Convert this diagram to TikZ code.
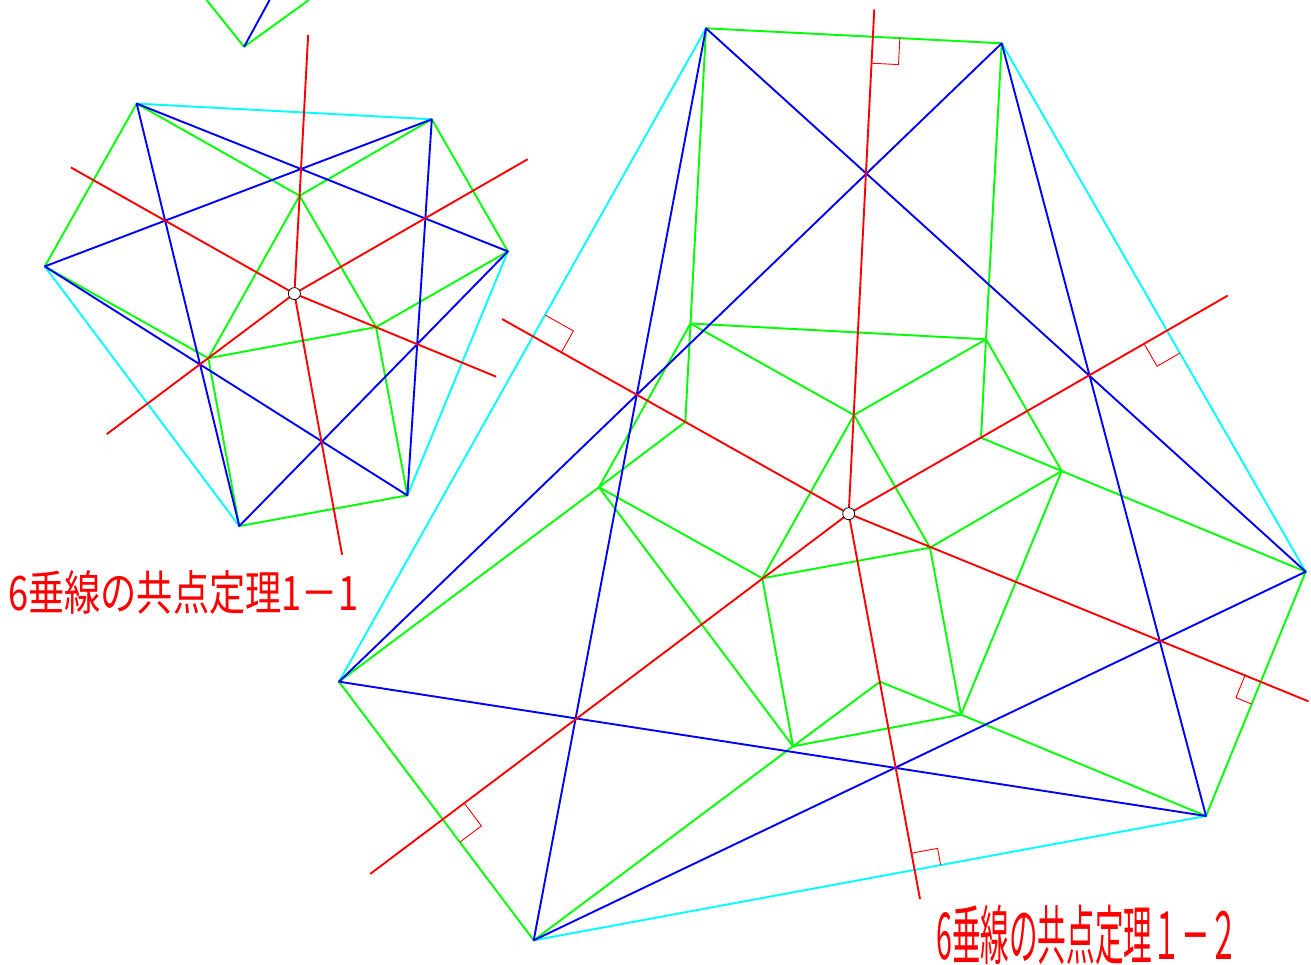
\documentclass[tikz,border=0pt]{standalone}
\usepackage{fontspec}
\usepackage{graphicx}
\newfontfamily\jp{Noto Sans CJK JP}
\usetikzlibrary{calc}
\definecolor{cgreen}{RGB}{0,255,0}
\definecolor{ccyan}{RGB}{0,255,255}
\definecolor{cblue}{RGB}{0,0,255}
\definecolor{cred}{RGB}{255,0,0}
\newcommand\perpRay[5]{%
  \coordinate (#5f) at ($(#2)!(#1)!(#3)$);
  \coordinate (#5) at ($(#1)!#4pt!(#5f)$);
  \draw[redl] (#1) -- (#5);}
\newcommand\raMark[5]{%
  \coordinate (ft) at ($(#1)!(O2)!(#2)$);
  \coordinate (ma) at ($(ft)!#4pt!(#3)$);
  \coordinate (mb) at ($(ft)!#5pt!(O2)$);
  \draw[ramark] (ma) -- ($(ma)+(mb)-(ft)$) -- (mb);}
\begin{document}
\begin{tikzpicture}[x=1pt,y=-1pt,
  gl/.style={draw=cgreen,line width=1.9pt,line join=round},
  cl/.style={draw=ccyan,line width=1.9pt,line join=round},
  bl/.style={draw=cblue,line width=1.9pt,line join=round},
  redl/.style={draw=cred,line width=1.9pt},
  ramark/.style={draw=cred,line width=0.9pt},
  ctr/.style={circle,draw=black,fill=white,inner sep=0pt,minimum size=12pt,line width=0.8pt},
  lab/.style={anchor=north west,inner sep=0pt,text=cred}]
\useasboundingbox (0,0) rectangle (1311,965);
\clip (0,0) rectangle (1311,965);
% ---------- left figure ----------
\coordinate (A1) at (136.7,103.6);
\coordinate (A2) at (431.8,119.3);
\coordinate (A3) at (507.9,251.4);
\coordinate (A4) at (407.4,495.4);
\coordinate (A5) at (239.3,526.1);
\coordinate (A6) at (44.8,266.4);
\coordinate (P) at (299.6,195.7);
\coordinate (Q) at (376,327.1);
\coordinate (R) at (208.3,358.2);
\coordinate (O1) at (294.4,293.6);
\coordinate (T) at (244.1,46.8);
\coordinate (T1) at (206.6,0);
\coordinate (T2) at (269.6,0);
\coordinate (T3) at (308.9,0);
% top partial figure
\draw[gl] (T1) -- (T) -- (T3);
\draw[bl] (T2) -- (T);
% sides
\draw[cl] (A1) -- (A2);
\draw[cl] (A3) -- (A4);
\draw[cl] (A5) -- (A6);
\draw[gl] (A2) -- (A3);
\draw[gl] (A4) -- (A5);
\draw[gl] (A6) -- (A1);
% inner green
\foreach \a/\b in {A1/P,A2/P,A3/Q,A4/Q,A5/R,A6/R,P/Q,Q/R,R/P}
  \draw[gl] (\a) -- (\b);
% blue triangles
\draw[bl] (A1) -- (A3) -- (A5) -- cycle;
\draw[bl] (A2) -- (A4) -- (A6) -- cycle;
% red perpendiculars
\perpRay{O1}{A1}{A2}{259}{la}
\perpRay{O1}{A4}{A5}{265.5}{lb}
\perpRay{O1}{A6}{A1}{256.7}{lc}
\perpRay{O1}{A3}{A4}{218.3}{ld}
\perpRay{O1}{A5}{A6}{234.4}{le}
\perpRay{O1}{A2}{A3}{269.2}{lf}
\node[ctr] (o1c) at (O1) {};
% ---------- right figure ----------
\coordinate (B1) at (706,28.3);
\coordinate (B2) at (1001.7,43.3);
\coordinate (B3) at (1305.7,571.7);
\coordinate (B4) at (1206,816);
\coordinate (B5) at (533.7,940.3);
\coordinate (B6) at (339,681.7);
\coordinate (C1) at (690.5,323.5);
\coordinate (C2) at (986,339.3);
\coordinate (C3) at (854,415);
\coordinate (C4) at (685.3,422);
\coordinate (C5) at (981,437.7);
\coordinate (C6) at (1061.7,471);
\coordinate (C7) at (599,487.2);
\coordinate (C8) at (762.3,578.3);
\coordinate (C9) at (930,547.7);
\coordinate (C10) at (880,681.7);
\coordinate (C11) at (961,714.6);
\coordinate (C12) at (793,746.3);
\coordinate (O2) at (848.7,513.7);
% sides
\draw[gl] (B1) -- (B2);
\draw[gl] (B3) -- (B4);
\draw[gl] (B5) -- (B6);
\draw[cl] (B2) -- (B3);
\draw[cl] (B4) -- (B5);
\draw[cl] (B6) -- (B1);
% inner green
\foreach \a/\b in {B1/C1,C1/C4,B2/C2,C2/C5,C1/C2,C1/C3,C2/C3,C1/C7,C4/C7,B6/C7,
  C2/C6,C5/C6,B3/C6,C3/C8,C3/C9,C8/C9,C7/C8,C7/C12,C8/C12,C9/C6,C9/C11,C6/C11,
  C10/C12,C10/C11,C12/C11,C11/B4,C12/B5}
  \draw[gl] (\a) -- (\b);
% blue triangles
\draw[bl] (B1) -- (B3) -- (B5) -- cycle;
\draw[bl] (B2) -- (B4) -- (B6) -- cycle;
% red perpendiculars
\perpRay{O2}{B1}{B2}{505}{ra}
\perpRay{O2}{B6}{B1}{397.6}{rb}
\perpRay{O2}{B2}{B3}{437.4}{rc}
\perpRay{O2}{B3}{B4}{496.6}{rd}
\perpRay{O2}{B4}{B5}{391.9}{re}
\perpRay{O2}{B5}{B6}{598.9}{rf}
% right-angle marks
\raMark{B1}{B2}{B2}{27}{26.5}
\raMark{B2}{B3}{B3}{26}{26.4}
\raMark{B3}{B4}{B4}{24}{17}
\raMark{B4}{B5}{B4}{26.5}{17}
\raMark{B5}{B6}{B5}{28.5}{27}
\raMark{B6}{B1}{B1}{24.6}{32.6}
\node[ctr] (o2c) at (O2) {};
% ---------- labels ----------
\node[lab] (lab1) at (8,570) {\resizebox*{350pt}{44pt}{\jp 6垂線の共点定理1－1}};
\node[lab] (lab2) at (936,905) {\resizebox*{302pt}{60pt}{\jp 6垂線の共点定理１－２}};
\end{tikzpicture}
\end{document}
